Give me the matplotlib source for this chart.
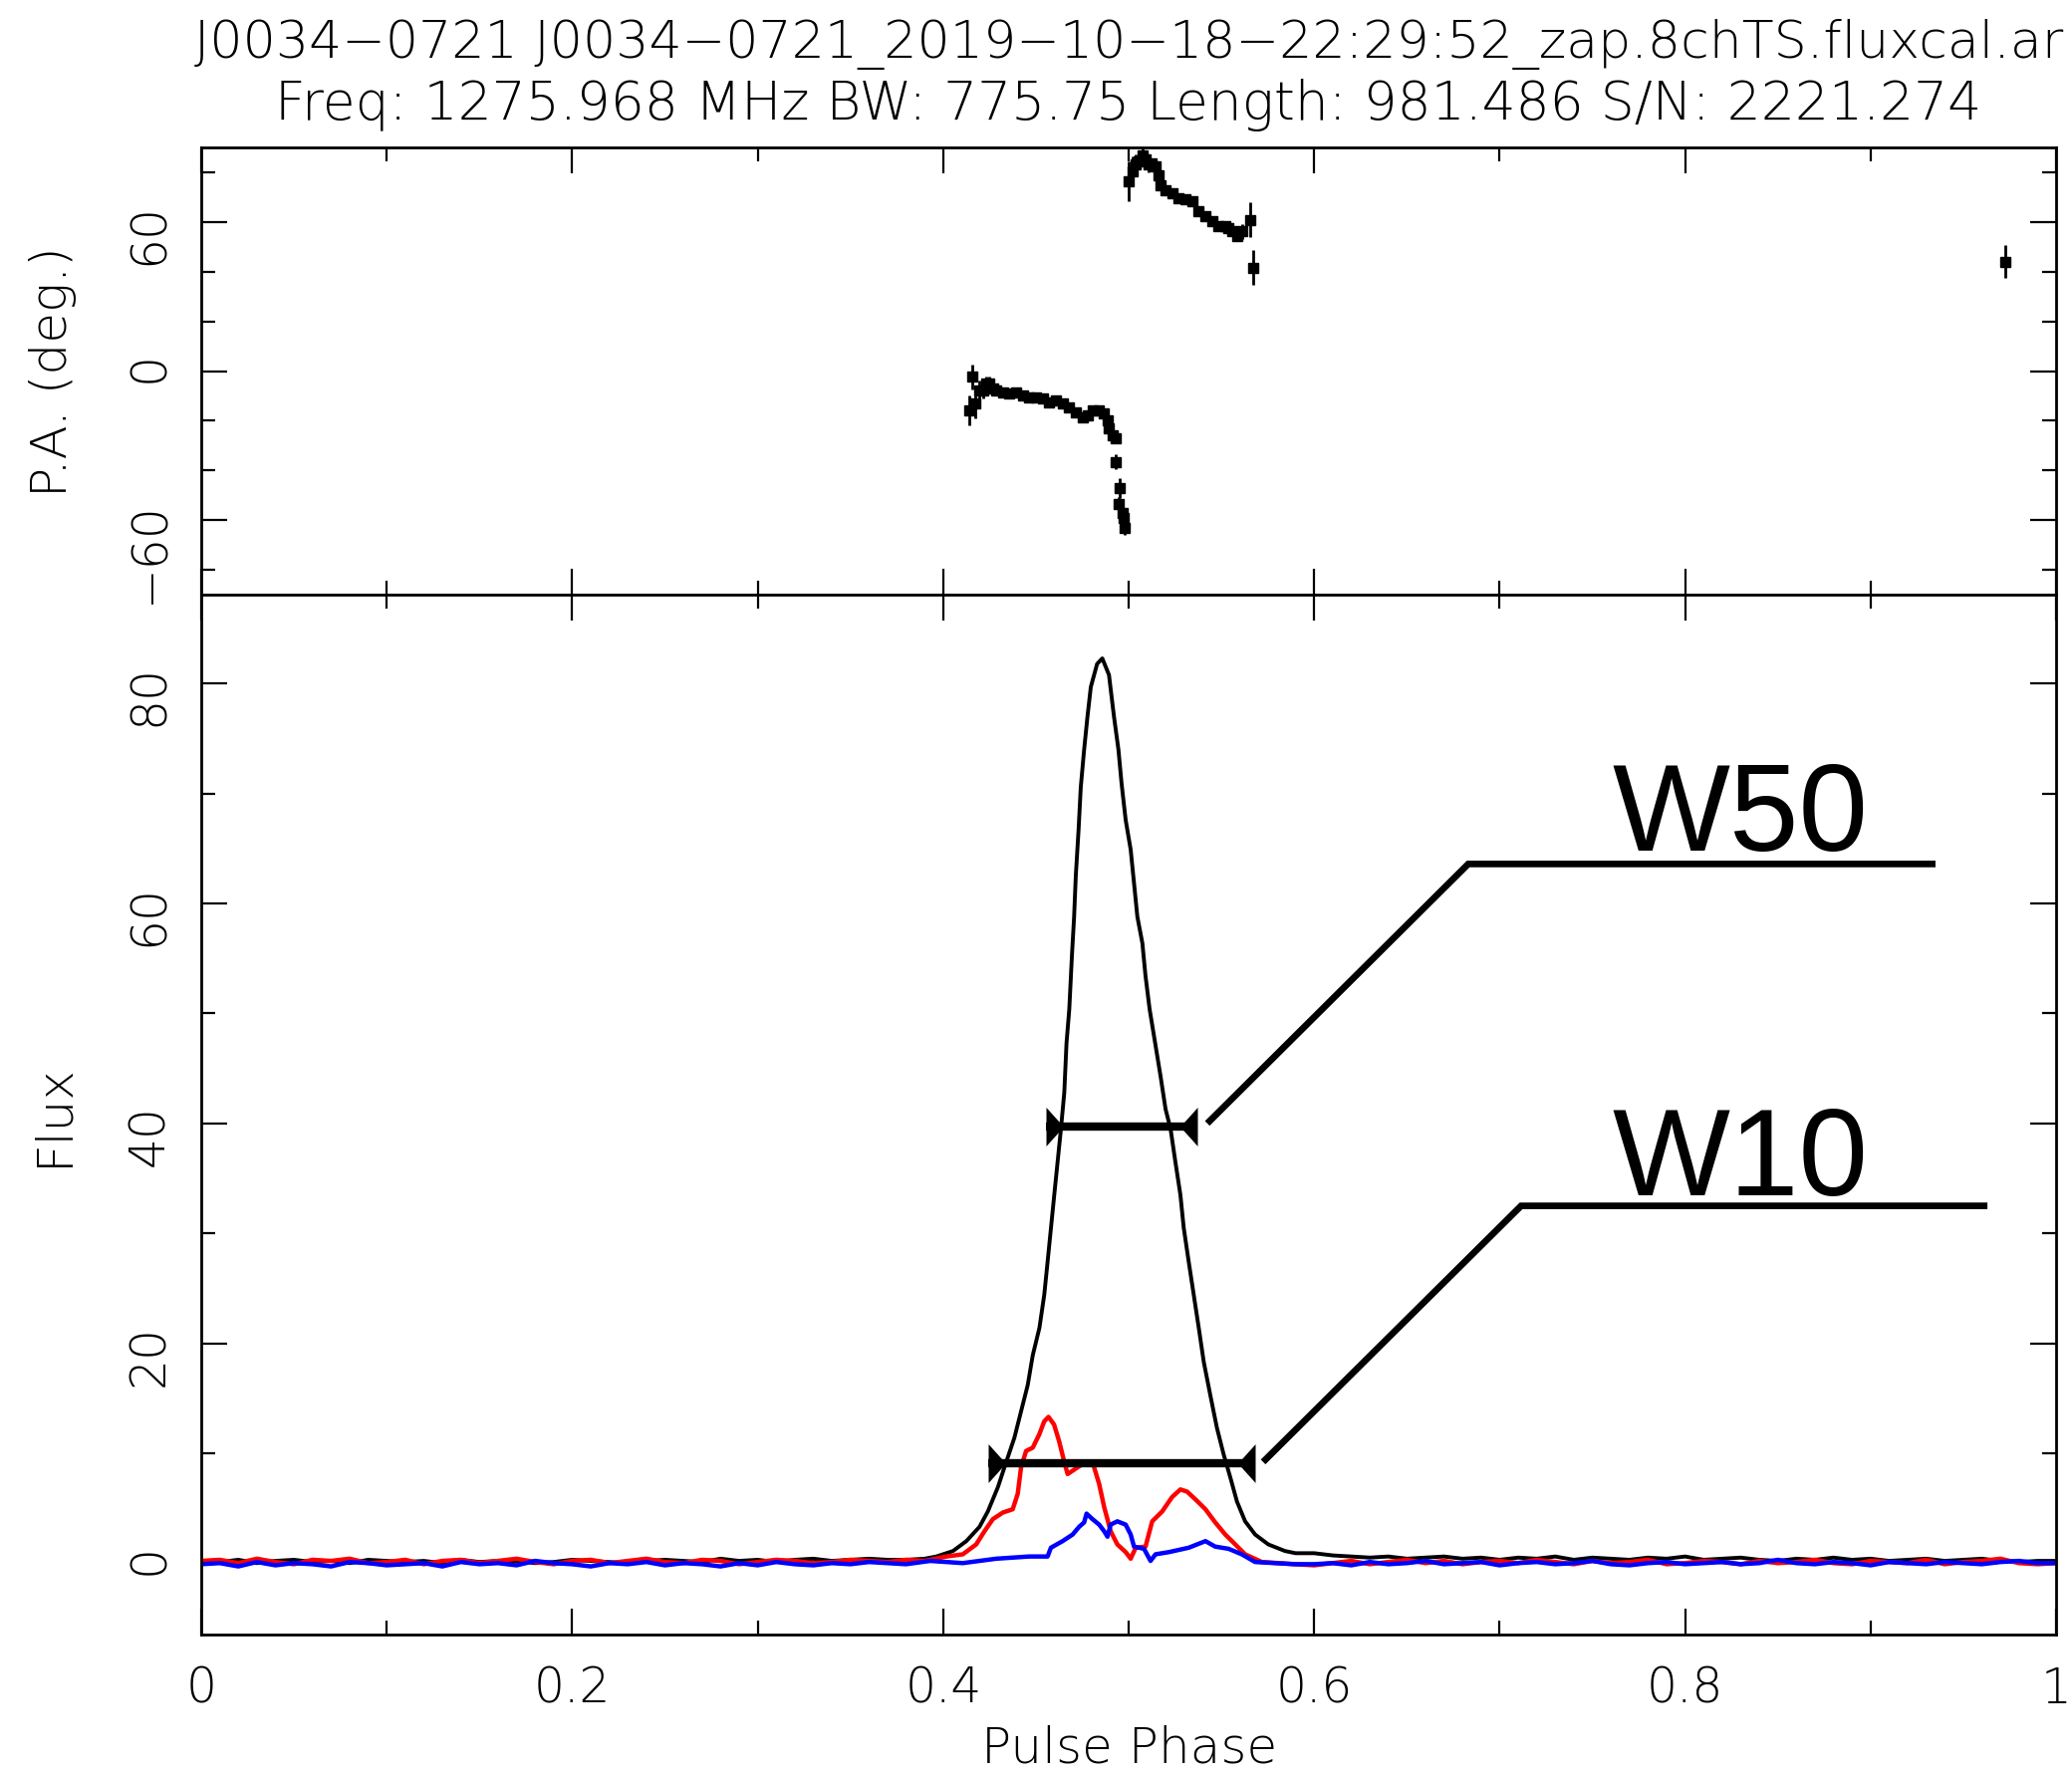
import numpy as np
import matplotlib
matplotlib.use('Agg')
import matplotlib.pyplot as plt
from matplotlib.path import Path
from matplotlib.ticker import MultipleLocator

plt.rcParams['font.family'] = ['DejaVu Sans']
plt.rcParams['font.weight'] = 'light'

# ---------------- header ----------------
TITLE1 = 'J0034\u22120721 J0034\u22120721_2019\u221210\u221218\u221222:29:52_zap.8chTS.fluxcal.ar'
TITLE2 = 'Freq: 1275.968 MHz BW: 775.75 Length: 981.486 S/N: 2221.274'

# ---------------- position angle (deg) ----------------
pa_phase_a = [0.4139, 0.4157, 0.4175, 0.4193, 0.4214, 0.4232, 0.4250, 0.4268, 0.4286,
              0.4322, 0.4357, 0.4393, 0.4429, 0.4465, 0.4501, 0.4536, 0.4572, 0.4608,
              0.4644, 0.4680, 0.4715, 0.4751, 0.4778, 0.4805, 0.4841, 0.4868, 0.4885,
              0.4894, 0.4912, 0.4930, 0.4930, 0.4945, 0.4952, 0.4966, 0.4975, 0.4980]
pa_a = [-15.7, -2.4, -13.0, -7.9, -7.9, -5.2, -5.2, -7.2, -7.9,
        -8.5, -9.2, -8.5, -9.9, -10.5, -10.8, -11.2, -12.5, -11.9,
        -13.2, -14.5, -16.5, -18.5, -17.9, -15.9, -15.9, -17.2, -19.9,
        -23.2, -25.9, -27.2, -36.5, -53.7, -47.1, -57.1, -59.1, -63.1]
pa_err_a = [6, 5, 6, 4, 3, 3, 3, 2, 2,
            2, 2, 2, 2, 2, 2, 2, 2, 2,
            2, 2, 2, 2, 2, 2, 2, 2, 2,
            2, 2, 2, 3, 3, 4, 3, 3, 3]

pa_phase_b = [0.5001, 0.5019, 0.5037, 0.5055, 0.5073, 0.5091, 0.5108, 0.5126, 0.5144,
              0.5162, 0.5171, 0.5198, 0.5234, 0.5270, 0.5306, 0.5342, 0.5377, 0.5413,
              0.5449, 0.5485, 0.5521, 0.5539, 0.5557, 0.5584, 0.5610, 0.5655, 0.5673]
pa_b = [76.3, 80.3, 83.0, 84.3, 86.9, 85.0, 83.0, 83.6, 82.3,
        78.9, 74.9, 72.9, 71.6, 69.6, 69.0, 68.3, 64.3, 62.3,
        60.3, 58.3, 58.3, 57.6, 56.3, 54.3, 56.3, 60.9, 41.6]
pa_err_b = [8, 6, 4, 3, 3, 3, 3, 2, 2,
            2, 2, 2, 2, 2, 2, 2, 2, 2,
            2, 2, 2, 2, 2, 2, 3, 7, 7]

pa_phase_c = [0.9726]
pa_c = [44.0]
pa_err_c = [6.7]

# ---------------- profiles ----------------
base_left = np.linspace(0.0, 0.37, 38)
base_right = np.linspace(0.60, 1.0, 41)

I_left = [0.2, 0.1, 0.3, 0.0, 0.2, 0.3, 0.1, 0.2, 0.0, 0.3, 0.2, 0.1, 0.2, 0.0, 0.3, 0.1,
          0.2, 0.2, 0.0, 0.1, 0.3, 0.2, 0.1, 0.0, 0.2, 0.3, 0.2, 0.1, 0.4, 0.2, 0.3, 0.1,
          0.3, 0.4, 0.2, 0.3, 0.4, 0.3]
L_left = [0.2, 0.3, 0.0, 0.4, 0.1, -0.1, 0.3, 0.2, 0.4, 0.0, 0.1, 0.3, -0.1, 0.2, 0.3, 0.0,
          0.2, 0.4, 0.1, -0.1, 0.2, 0.3, 0.0, 0.2, 0.4, 0.1, 0.0, 0.3, 0.2, -0.1, 0.1, 0.3,
          0.2, 0.0, 0.1, 0.3, 0.2, 0.1]
V_left = [-0.1, 0.0, -0.3, 0.1, -0.2, 0.0, -0.1, -0.3, 0.1, 0.0, -0.2, -0.1, 0.0, -0.3, 0.1, -0.1,
          0.0, -0.2, 0.2, 0.0, -0.1, -0.3, 0.0, -0.1, 0.1, -0.2, 0.0, -0.1, -0.3, 0.0, -0.2, 0.1,
          -0.1, -0.2, 0.0, -0.1, 0.1, 0.0]

I_right = [0.9, 0.7, 0.6, 0.5, 0.6, 0.4, 0.5, 0.6, 0.4, 0.5, 0.3, 0.5, 0.4, 0.6, 0.3, 0.5,
           0.4, 0.3, 0.5, 0.4, 0.6, 0.3, 0.4, 0.5, 0.3, 0.2, 0.4, 0.3, 0.5, 0.3, 0.4, 0.2,
           0.3, 0.4, 0.2, 0.3, 0.4, 0.2, 0.1, 0.2, 0.2]
L_right = [-0.2, 0.0, 0.2, -0.1, 0.1, 0.3, 0.0, 0.2, -0.1, 0.1, 0.2, 0.0, 0.3, 0.1, -0.1, 0.2,
           0.0, 0.1, 0.3, -0.1, 0.0, 0.2, 0.1, -0.1, 0.2, 0.0, 0.1, 0.3, 0.0, -0.1, 0.2, 0.1,
           0.0, 0.3, -0.1, 0.1, 0.2, 0.4, 0.0, -0.1, 0.0]
V_right = [-0.1, 0.0, -0.2, 0.1, -0.1, 0.0, 0.2, -0.1, 0.0, 0.1, -0.2, 0.0, 0.1, -0.1, 0.0, 0.2,
           -0.1, -0.2, 0.0, 0.1, -0.1, 0.0, 0.1, -0.1, 0.0, 0.3, 0.0, -0.1, 0.1, 0.0, -0.2, 0.1,
           0.0, -0.1, 0.1, 0.0, -0.1, 0.1, 0.2, 0.0, 0.0]

I_on_phase = [0.380, 0.390, 0.3963, 0.4053, 0.4125, 0.4196, 0.4241, 0.4295, 0.4340, 0.4384,
              0.4420, 0.4456, 0.4483, 0.4519, 0.4545, 0.4563, 0.4581, 0.4599, 0.4617, 0.4635,
              0.4653, 0.4665, 0.4680, 0.4694, 0.4706, 0.4715, 0.4730, 0.4742, 0.4760, 0.4778,
              0.4796, 0.4830, 0.4858, 0.4894, 0.4921, 0.4945, 0.4962, 0.4984, 0.5011, 0.5029,
              0.5047, 0.5074, 0.5091, 0.5113, 0.5145, 0.5172, 0.5199, 0.5226, 0.5252, 0.5279,
              0.5297, 0.5324, 0.5351, 0.5378, 0.5405, 0.5440, 0.5476, 0.5512, 0.5548, 0.5584,
              0.5628, 0.5682, 0.5753, 0.5843, 0.5900]
I_on = [0.3, 0.4, 0.6, 1.1, 2.0, 3.3, 4.7, 6.9, 9.2, 11.4,
        13.8, 16.2, 18.9, 21.4, 24.4, 27.4, 30.5, 33.5, 36.5, 39.5,
        42.8, 47.3, 50.4, 55.2, 58.8, 62.5, 66.7, 70.6, 74.0, 77.0,
        79.7, 81.8, 82.3, 80.8, 77.0, 74.0, 70.9, 67.6, 64.9, 61.8,
        58.8, 56.4, 53.4, 50.4, 47.1, 44.3, 41.3, 39.5, 36.5, 33.5,
        30.5, 27.4, 24.4, 21.4, 18.3, 15.3, 12.3, 9.9, 7.8, 5.6,
        3.8, 2.6, 1.7, 1.1, 0.9]

L_on_phase = [0.380, 0.390, 0.4017, 0.4106, 0.4178, 0.4223, 0.4268, 0.4322, 0.4375, 0.4402,
              0.4420, 0.4447, 0.4483, 0.4518, 0.4545, 0.4568, 0.4598, 0.4625, 0.4653, 0.4671,
              0.4724, 0.4769, 0.4805, 0.4841, 0.4868, 0.4903, 0.4939, 0.4984, 0.5011, 0.5038,
              0.5091, 0.5127, 0.5181, 0.5234, 0.5279, 0.5315, 0.5360, 0.5414, 0.5467, 0.5521,
              0.5575, 0.5628, 0.5718, 0.5897]
L_on = [0.3, 0.2, 0.6, 0.8, 1.7, 2.9, 4.0, 4.6, 4.9, 6.3,
        8.7, 10.2, 10.5, 11.7, 12.9, 13.3, 12.6, 11.1, 9.2, 8.1,
        8.7, 9.2, 9.2, 7.2, 5.1, 2.9, 1.7, 1.0, 0.4, 1.4,
        1.5, 3.8, 4.7, 6.0, 6.7, 6.5, 5.8, 4.9, 3.7, 2.6,
        1.7, 0.8, 0.1, -0.1]

V_on_phase = [0.380, 0.393, 0.4106, 0.4286, 0.4463, 0.4563, 0.4581, 0.4644, 0.4698, 0.4733,
              0.4760, 0.4773, 0.4805, 0.4841, 0.4868, 0.4886, 0.4903, 0.4939, 0.4984, 0.5011,
              0.5029, 0.5083, 0.5118, 0.5145, 0.5217, 0.5324, 0.5414, 0.5467, 0.5539, 0.5610,
              0.5682, 0.5897]
V_on = [-0.1, 0.2, 0.0, 0.4, 0.6, 0.6, 1.4, 2.0, 2.6, 3.3,
        3.7, 4.5, 4.0, 3.5, 2.9, 2.4, 3.5, 3.8, 3.5, 2.6,
        1.5, 1.3, 0.2, 0.8, 1.0, 1.4, 2.0, 1.5, 1.3, 0.8,
        0.1, -0.1]

# ---------------- pulse widths ----------------
w50_level, w50_lo, w50_hi = 39.7, 0.4554, 0.5369
w10_level, w10_lo, w10_hi = 9.13, 0.4241, 0.5682


def join(left, on_x, on_y, right_vals):
    x = np.concatenate([base_left, on_x, base_right])
    y = np.concatenate([left, on_y, right_vals])
    return x, y


def phase_label(v, pos):
    v = round(v, 3)
    if v in (0, 1):
        return f'{int(v)}'
    return f'{v:.1f}'


fig = plt.figure(figsize=(20.8, 17.8), dpi=100)
W, H = 2080.0, 1780.0
x0, x1 = 202 / W, 2064 / W
y_top, y_mid, y_bot = 1 - 148 / H, 1 - 597 / H, 1 - 1641 / H
ax_pa = fig.add_axes([x0, y_mid, x1 - x0, y_top - y_mid])
ax = fig.add_axes([x0, y_bot, x1 - x0, y_mid - y_bot])

for a in (ax_pa, ax):
    a.set_xlim(0, 1)
    a.xaxis.set_major_locator(MultipleLocator(0.2))
    a.xaxis.set_minor_locator(MultipleLocator(0.1))
    a.tick_params(which='both', direction='in', top=True, right=True, width=1.6, colors='k')
    a.tick_params(which='major', length=19)
    a.tick_params(which='minor', length=10)
    a.tick_params(axis='x', labelsize=35, pad=22)
    a.tick_params(axis='y', labelsize=35, labelrotation=90, pad=20)
    for s in a.spines.values():
        s.set_linewidth(2.0)
ax_pa.tick_params(axis='x', labelbottom=False)

# PA panel
ax_pa.set_ylim(-90, 90)
ax_pa.yaxis.set_major_locator(MultipleLocator(60))
ax_pa.yaxis.set_minor_locator(MultipleLocator(20))
for px, py, pe in ((pa_phase_a, pa_a, pa_err_a), (pa_phase_b, pa_b, pa_err_b), (pa_phase_c, pa_c, pa_err_c)):
    ax_pa.errorbar(px, py, yerr=pe, fmt='s', ms=7, color='k', ecolor='k', elinewidth=2.0, capsize=0)

# profile panel
ax.set_ylim(-6.5, 88.1)
ax.yaxis.set_major_locator(MultipleLocator(20))
ax.yaxis.set_minor_locator(MultipleLocator(10))
ax.xaxis.set_major_formatter(plt.FuncFormatter(phase_label))

xi, yi = join(I_left, I_on_phase, I_on, I_right)
xl, yl = join(L_left, L_on_phase, L_on, L_right)
xv, yv = join(V_left, V_on_phase, V_on, V_right)
ax.plot(xi, yi, color='black', lw=2.8)
ax.plot(xl, yl, color='#ff0000', lw=3.2)
ax.plot(xv, yv, color='#0000ff', lw=3.2)

# width bars with inward-pointing triangular ends
tri_left = Path([(0, -1), (0, 1), (0.9, 0), (0, -1)],
                [Path.MOVETO, Path.LINETO, Path.LINETO, Path.CLOSEPOLY])
tri_right = Path([(0, -1), (0, 1), (-0.9, 0), (0, -1)],
                 [Path.MOVETO, Path.LINETO, Path.LINETO, Path.CLOSEPOLY])
for lvl, lo, hi in ((w50_level, w50_lo, w50_hi), (w10_level, w10_lo, w10_hi)):
    ax.plot([lo, hi], [lvl, lvl], color='k', lw=6, solid_capstyle='butt', zorder=5)
    ax.plot([lo], [lvl], marker=tri_left, ms=28, color='k', mew=0, zorder=5)
    ax.plot([hi], [lvl], marker=tri_right, ms=28, color='k', mew=0, zorder=5)

# leader lines and labels
ax.plot([0.5424, 0.6831, 0.9350], [40.0, 63.6, 63.6], color='k', lw=4.8,
        solid_joinstyle='miter', solid_capstyle='butt', clip_on=False)
ax.plot([0.5725, 0.7116, 0.9630], [9.2, 32.5, 32.5], color='k', lw=4.8,
        solid_joinstyle='miter', solid_capstyle='butt', clip_on=False)
ax.text(0.7605, 64.8, 'W50', fontsize=90, fontweight='normal',
        family=['Liberation Sans', 'DejaVu Sans'], ha='left', va='baseline')
ax.text(0.7605, 33.5, 'W10', fontsize=90, fontweight='normal',
        family=['Liberation Sans', 'DejaVu Sans'], ha='left', va='baseline')

# titles and axis labels
cx = (202 + 2064) / 2 / W
fig.text(cx, 1 - 44 / H, TITLE1, fontsize=37.5, ha='center', va='center')
fig.text(cx, 1 - 106 / H, TITLE2, fontsize=38.5, ha='center', va='center')
fig.text(53 / W, 1 - 373 / H, 'P.A. (deg.)', fontsize=36, rotation=90, ha='center', va='center')
fig.text(53 / W, 1 - 1119 / H, 'Flux', fontsize=36, rotation=90, ha='center', va='center')
fig.text(1134 / W, 1 - 1755 / H, 'Pulse Phase', fontsize=36, ha='center', va='center')

fig.savefig('out.png', dpi=100)
